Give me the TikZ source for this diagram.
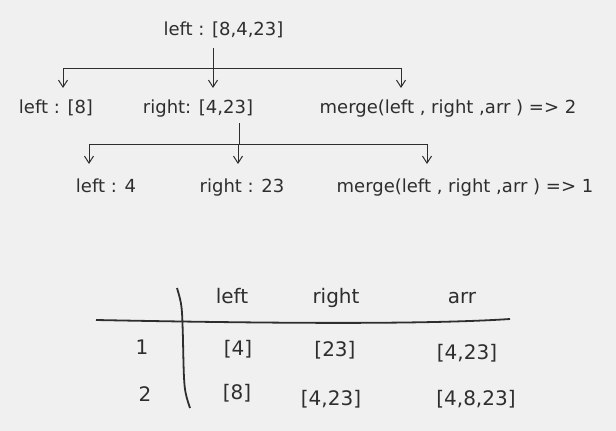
\documentclass[tikz,border=0pt]{standalone}
\usepackage{fontspec}
\setmainfont{DejaVu Sans}
\usetikzlibrary{arrows.meta}
\definecolor{bg}{HTML}{F0F0F0}
\definecolor{ink}{HTML}{2E2E2E}

\tikzset{
  tree/.style={font=\fontsize{18}{20}\selectfont,text=ink,inner sep=0pt,anchor=base},
  cell/.style={font=\fontsize{20}{22}\selectfont,text=ink,inner sep=0pt,anchor=base},
  bar/.style={draw=ink,line width=1pt},
  down/.style={-{Straight Barb[length=7pt,width=9pt]},draw=ink,line width=1pt},
}

\begin{document}
\begin{tikzpicture}[x=1pt,y=-1pt]
\useasboundingbox[fill=bg] (0,0) rectangle (616,431);

\node[tree] (top) at (223.5,35) {left : [8,4,23]};

%first split
\coordinate (j1) at (213,68);
\coordinate (a1) at (63,88);
\coordinate (b1) at (213,88);
\coordinate (c1) at (401,88);
\draw[bar] ([yshift=-13pt]top.base -| j1) -- (j1);
\draw[bar] (a1 |- j1) -- (c1 |- j1);
\draw[down] (a1 |- j1) -- (a1);
\draw[down] (b1 |- j1) -- (b1);
\draw[down] (c1 |- j1) -- (c1);
\node[tree] (l1) at (56,113) {left : [8]};
\node[tree] (r1) at (198,113) {right: [4,23]};
\node[tree] (m1) at (448,113) {merge(left , right ,arr ) => 2};

%second split
\coordinate (j2) at (239,144);
\coordinate (a2) at (89,164);
\coordinate (b2) at (238,164);
\coordinate (c2) at (427,164);
\draw[bar] ([yshift=-10pt]r1.base -| j2) -- (j2);
\draw[bar] (a2 |- j2) -- (c2 |- j2);
\draw[down] (a2 |- j2) -- (a2);
\draw[down] (b2 |- j2) -- (b2);
\draw[down] (c2 |- j2) -- (c2);
\node[tree] (l2) at (106,192) {left : 4};
\node[tree] (r2) at (242,192) {right : 23};
\node[tree] (m2) at (465,192) {merge(left , right ,arr ) => 1};

%table
\draw[ink,line width=1.8pt] (96,320) .. controls (250,323) and (420,325) .. (510,319);
\draw[ink,line width=1.8pt] (177,288) .. controls (182,305) .. (183,340) .. controls (184,390) .. (190,408);
\node[cell] (hl) at (232,303) {left};
\node[cell] (hr) at (336,303) {right};
\node[cell] (ha) at (462,303) {arr};
\node[cell] (n1) at (142,354) {1};
\node[cell] (c11) at (238,355) {[4]};
\node[cell] (c12) at (335,356) {[23]};
\node[cell] (c13) at (467,359) {[4,23]};
\node[cell] (n2) at (145,401) {2};
\node[cell] (c21) at (237,399) {[8]};
\node[cell] (c22) at (331,405) {[4,23]};
\node[cell] (c23) at (476,405) {[4,8,23]};
\end{tikzpicture}
\end{document}
